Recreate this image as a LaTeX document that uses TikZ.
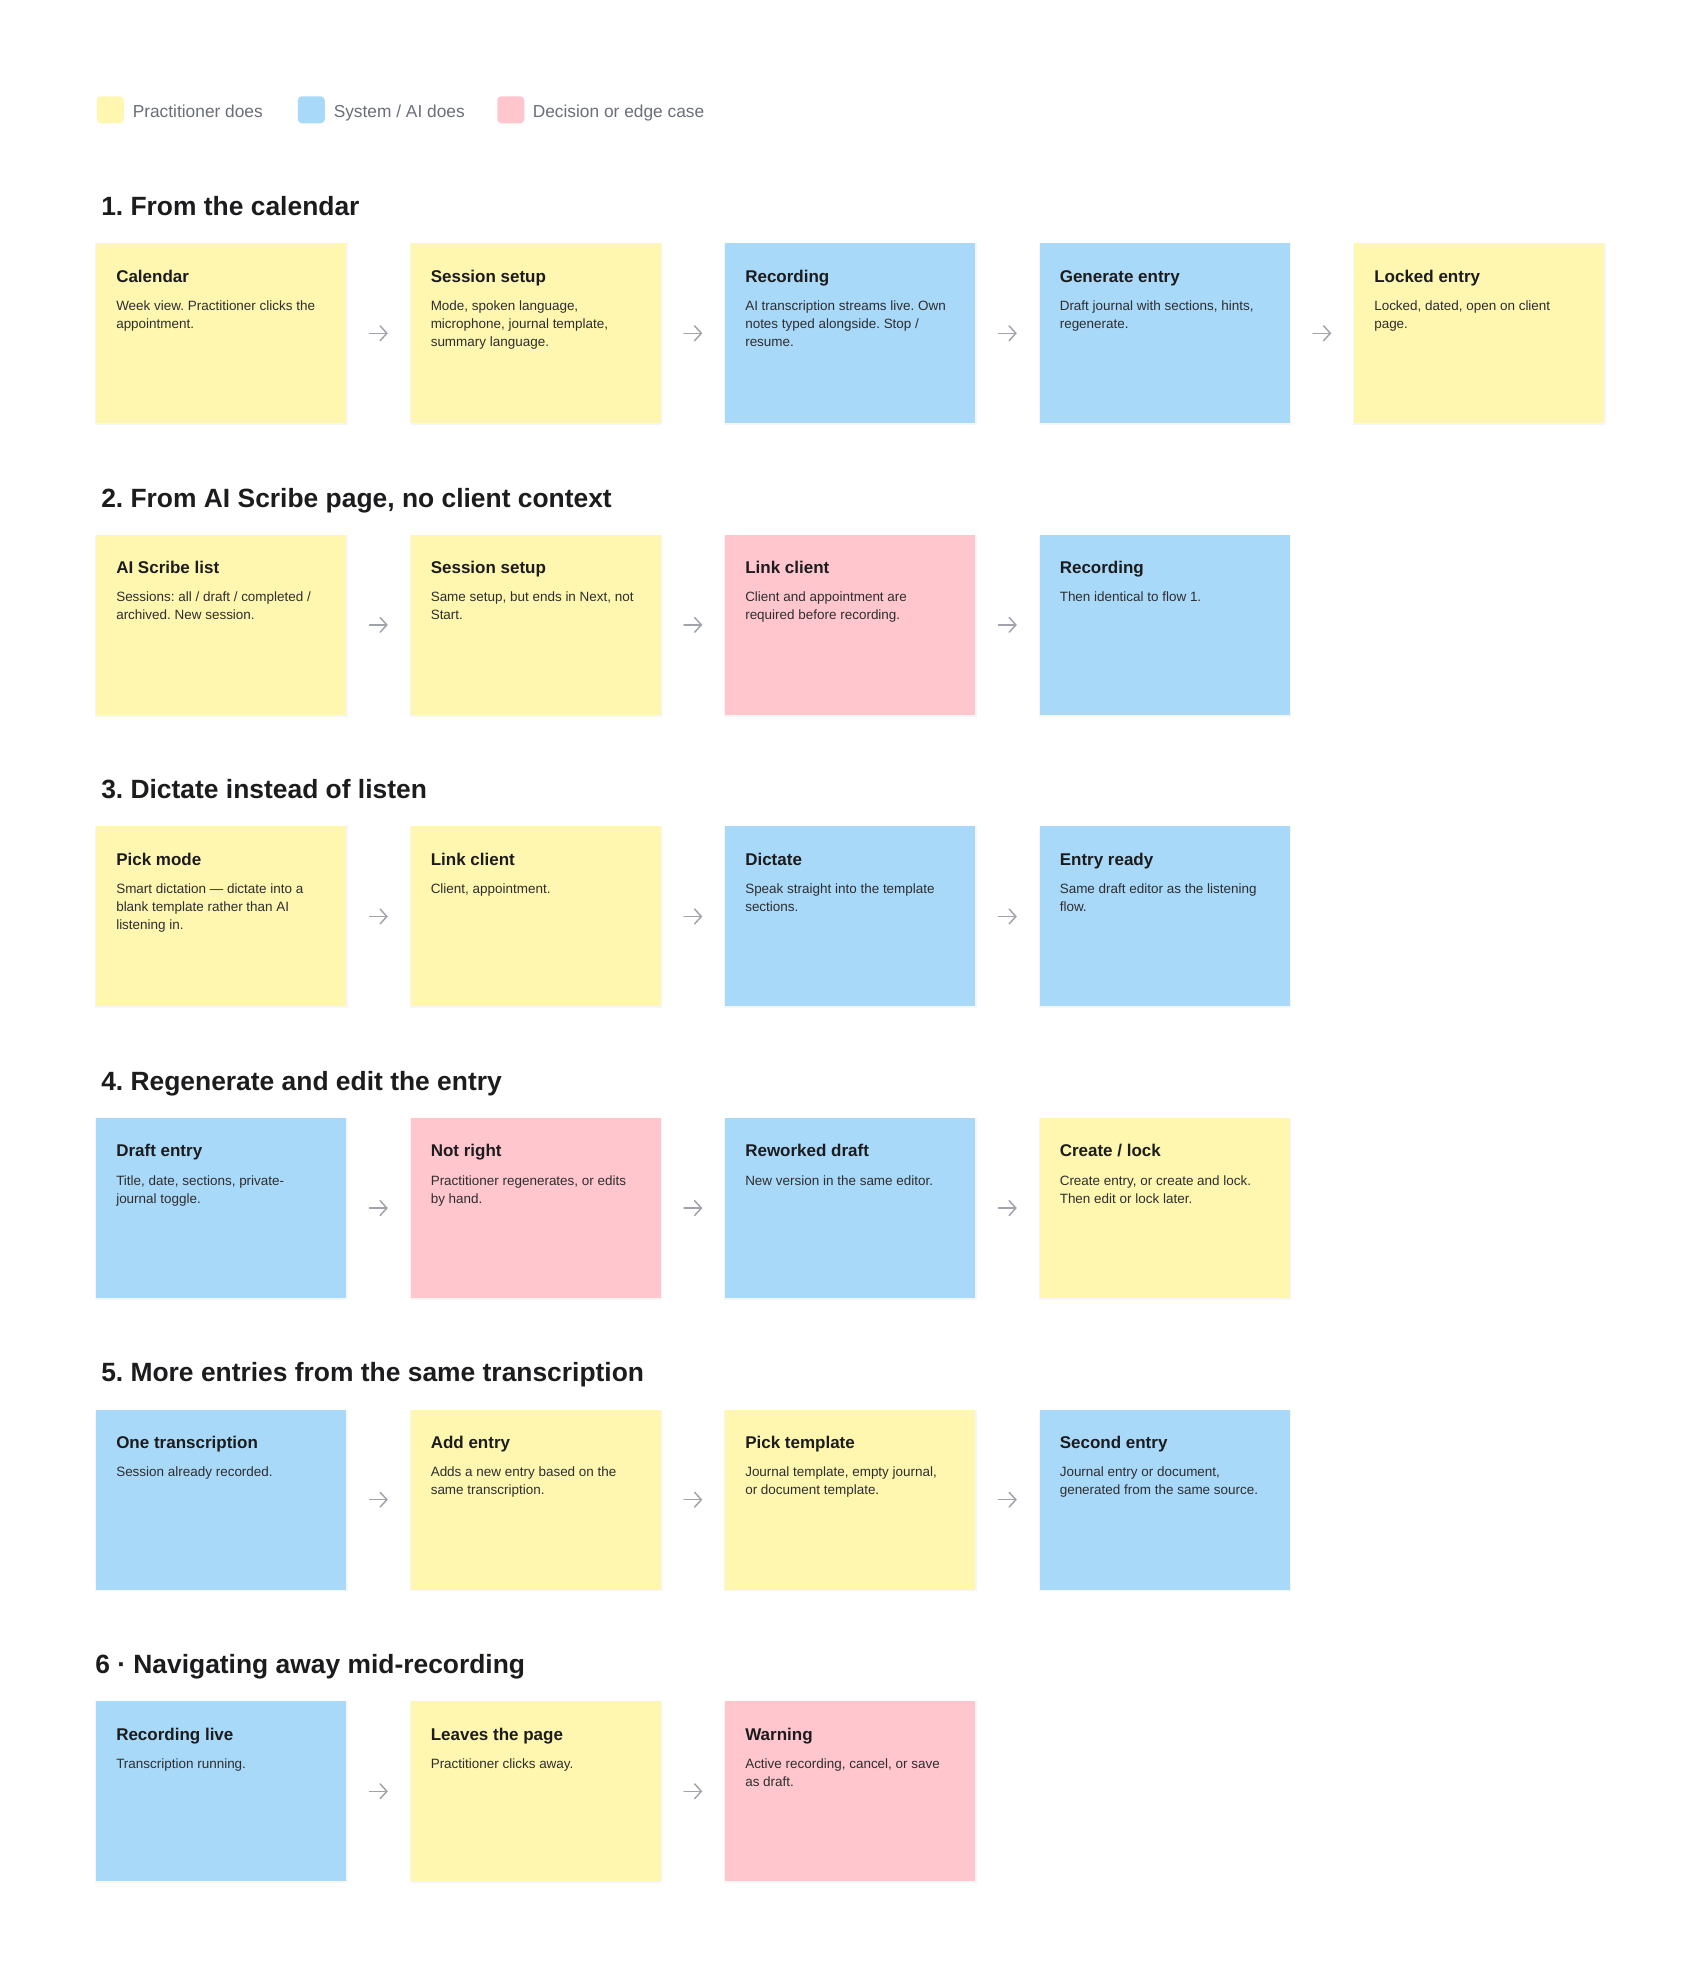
\documentclass[tikz,border=0pt]{standalone}
\usepackage{fontspec}
\setmainfont{Liberation Sans}
\frenchspacing
\usetikzlibrary{arrows.meta,calc,shadows}
\definecolor{cardyellow}{HTML}{FFF7B0}
\definecolor{cardblue}{HTML}{A9D9F8}
\definecolor{cardpink}{HTML}{FFC6CE}
\definecolor{arrowgray}{HTML}{A0A3AB}
\definecolor{legendgray}{HTML}{6B6F78}
\definecolor{titleink}{HTML}{1C1C1E}
\definecolor{bodyink}{HTML}{2E2E30}
\tikzset{
  cardbox/.style={rectangle, anchor=north west, inner sep=0pt, minimum width=187.5pt, minimum height=135pt,
    drop shadow={shadow xshift=0pt, shadow yshift=-0.6pt, opacity=0.07, shadow scale=1.01}},
  cardtitle/.style={anchor=base west, inner sep=0pt, text=titleink, font=\bfseries\fontsize{12.75}{15}\selectfont},
  cardbody/.style={anchor=north west, inner sep=0pt, align=left, text=bodyink, font=\fontsize{10.1}{13.5}\selectfont},
  sectitle/.style={anchor=base west, inner sep=0pt, text=titleink, font=\bfseries\fontsize{19.8}{24}\selectfont},
  legendsq/.style={rectangle, rounded corners=3pt, anchor=north west, inner sep=0pt, minimum width=20.25pt, minimum height=20.25pt},
  legendtext/.style={anchor=base west, inner sep=0pt, text=legendgray, font=\fontsize{13}{15}\selectfont},
  flowarrow/.style={draw=arrowgray, line width=1.1pt, line cap=round, shorten <=17.25pt, shorten >=17pt,
    -{Straight Barb[length=5pt,width=11pt,line cap=round]}}
}
\newcommand\flowcard[6]{%
  \node[cardbox, fill=#4] (#1) at ({96+314.5*#2}, {243+291.6*#3}) {};
  \node[cardtitle] (#1t) at ($(#1.north west)+(20,39)$) {#5};
  \node[cardbody] (#1b) at ($(#1.north west)+(20,54.4)$) {\strut #6};
}
\begin{document}
\begin{tikzpicture}[x=0.75pt, y=-0.75pt]
\useasboundingbox (0,0) rectangle (1700,1977);
\fill[white] (0,0) rectangle (1700,1977);

% legend
\node[legendsq, fill=cardyellow] (lg1) at (96.5,96) {};
\node[legendtext] (lt1) at (132.5,117) {Practitioner does};
\node[legendsq, fill=cardblue] (lg2) at (297.5,96) {};
\node[legendtext] (lt2) at (333.5,117) {System / AI does};
\node[legendsq, fill=cardpink] (lg3) at (497,96) {};
\node[legendtext] (lt3) at (532.5,117) {Decision or edge case};

% section titles
\node[sectitle] (s1) at (101,{243-27.5}) {1. From the calendar};
\node[sectitle] (s2) at (101,{243+291.6-27.5}) {2. From AI Scribe page, no client context};
\node[sectitle] (s3) at (101,{243+2*291.6-27.5}) {3. Dictate instead of listen};
\node[sectitle] (s4) at (101,{243+3*291.6-27.5}) {4. Regenerate and edit the entry};
\node[sectitle] (s5) at (101,{243+4*291.6-27.5}) {5. More entries from the same transcription};
\node[sectitle] (s6) at (95,{243+5*291.6-27.5}) {6 · Navigating away mid-recording};

% row 1
\flowcard{a1}{0}{0}{cardyellow}{Calendar}{Week view. Practitioner clicks the\\appointment.}
\flowcard{a2}{1}{0}{cardyellow}{Session setup}{Mode, spoken language,\\microphone, journal template,\\summary language.}
\flowcard{a3}{2}{0}{cardblue}{Recording}{AI transcription streams live. Own\\notes typed alongside. Stop /\\resume.}
\flowcard{a4}{3}{0}{cardblue}{Generate entry}{Draft journal with sections, hints,\\regenerate.}
\flowcard{a5}{4}{0}{cardyellow}{Locked entry}{Locked, dated, open on client\\page.}
% row 2
\flowcard{b1}{0}{1}{cardyellow}{AI Scribe list}{Sessions: all / draft / completed /\\archived. New session.}
\flowcard{b2}{1}{1}{cardyellow}{Session setup}{Same setup, but ends in Next, not\\Start.}
\flowcard{b3}{2}{1}{cardpink}{Link client}{Client and appointment are\\required before recording.}
\flowcard{b4}{3}{1}{cardblue}{Recording}{Then identical to flow 1.}
% row 3
\flowcard{c1}{0}{2}{cardyellow}{Pick mode}{Smart dictation — dictate into a\\blank template rather than AI\\listening in.}
\flowcard{c2}{1}{2}{cardyellow}{Link client}{Client, appointment.}
\flowcard{c3}{2}{2}{cardblue}{Dictate}{Speak straight into the template\\sections.}
\flowcard{c4}{3}{2}{cardblue}{Entry ready}{Same draft editor as the listening\\flow.}
% row 4
\flowcard{d1}{0}{3}{cardblue}{Draft entry}{Title, date, sections, private-\\journal toggle.}
\flowcard{d2}{1}{3}{cardpink}{Not right}{Practitioner regenerates, or edits\\by hand.}
\flowcard{d3}{2}{3}{cardblue}{Reworked draft}{New version in the same editor.}
\flowcard{d4}{3}{3}{cardyellow}{Create / lock}{Create entry, or create and lock.\\Then edit or lock later.}
% row 5
\flowcard{e1}{0}{4}{cardblue}{One transcription}{Session already recorded.}
\flowcard{e2}{1}{4}{cardyellow}{Add entry}{Adds a new entry based on the\\same transcription.}
\flowcard{e3}{2}{4}{cardyellow}{Pick template}{Journal template, empty journal,\\or document template.}
\flowcard{e4}{3}{4}{cardblue}{Second entry}{Journal entry or document,\\generated from the same source.}
% row 6
\flowcard{f1}{0}{5}{cardblue}{Recording live}{Transcription running.}
\flowcard{f2}{1}{5}{cardyellow}{Leaves the page}{Practitioner clicks away.}
\flowcard{f3}{2}{5}{cardpink}{Warning}{Active recording, cancel, or save\\as draft.}

% connectors
\foreach \p/\q in {a1/a2,a2/a3,a3/a4,a4/a5,b1/b2,b2/b3,b3/b4,c1/c2,c2/c3,c3/c4,d1/d2,d2/d3,d3/d4,e1/e2,e2/e3,e3/e4,f1/f2,f2/f3}
  \draw[flowarrow] (\p.east) -- (\q.west);
\end{tikzpicture}
\end{document}
